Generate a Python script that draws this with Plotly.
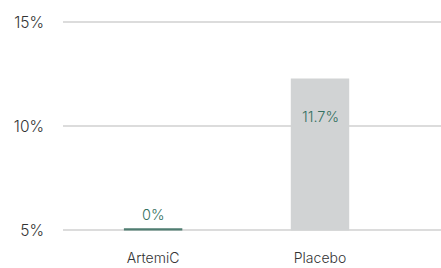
import plotly.graph_objects as go

categories = ["ArtemiC", "Placebo"]
bar_tops = [5.1, 12.3]
value_labels = ["0%", "11.7%"]
tick_vals = [5, 10, 15]
tick_text = ["5%", "10%", "15%"]

base = 5
bar_colors = ["#4f7d71", "#d1d3d4"]
text_color = "#33705f"
font_family = "Inter, Lato, sans-serif"
fw = 300

fig = go.Figure()
fig.add_trace(go.Bar(
    x=categories,
    y=[t - base for t in bar_tops],
    base=base,
    marker=dict(color=bar_colors, line=dict(width=0)),
    width=0.35,
    hoverinfo="skip",
))

fig.add_annotation(x=categories[0], y=bar_tops[0], text=value_labels[0],
                   showarrow=False, yanchor="bottom", yshift=3,
                   font=dict(family=font_family, size=14.5, color=text_color, weight=fw))
fig.add_annotation(x=categories[1], y=bar_tops[1], text=value_labels[1],
                   showarrow=False, yanchor="middle", yshift=-38,
                   font=dict(family=font_family, size=14.5, color=text_color, weight=fw))

fig.update_layout(
    width=441, height=268,
    margin=dict(l=63, r=0, t=12, b=28),
    paper_bgcolor="white", plot_bgcolor="white",
    showlegend=False,
    font=dict(family=font_family, size=14, color="#333333", weight=fw),
    xaxis=dict(range=[-0.54, 1.725], showgrid=False, zeroline=False,
               showline=False, ticks="", ticklabelstandoff=8,
               automargin=False,
               tickfont=dict(family=font_family, size=14, color="#333333", weight=fw)),
    yaxis=dict(range=[4.54, 15.5], tickvals=tick_vals, ticktext=tick_text,
               showgrid=True, gridcolor="#dcdcdc", gridwidth=1.5,
               zeroline=False, showline=False, ticks="",
               ticklabelstandoff=18, automargin=False,
               tickfont=dict(family=font_family, size=15.5, color="#333333", weight=fw)),
)

fig.write_html("out.html", config={"displayModeBar": False},
               post_script="document.body.style.margin='0';document.body.style.overflow='hidden';")
